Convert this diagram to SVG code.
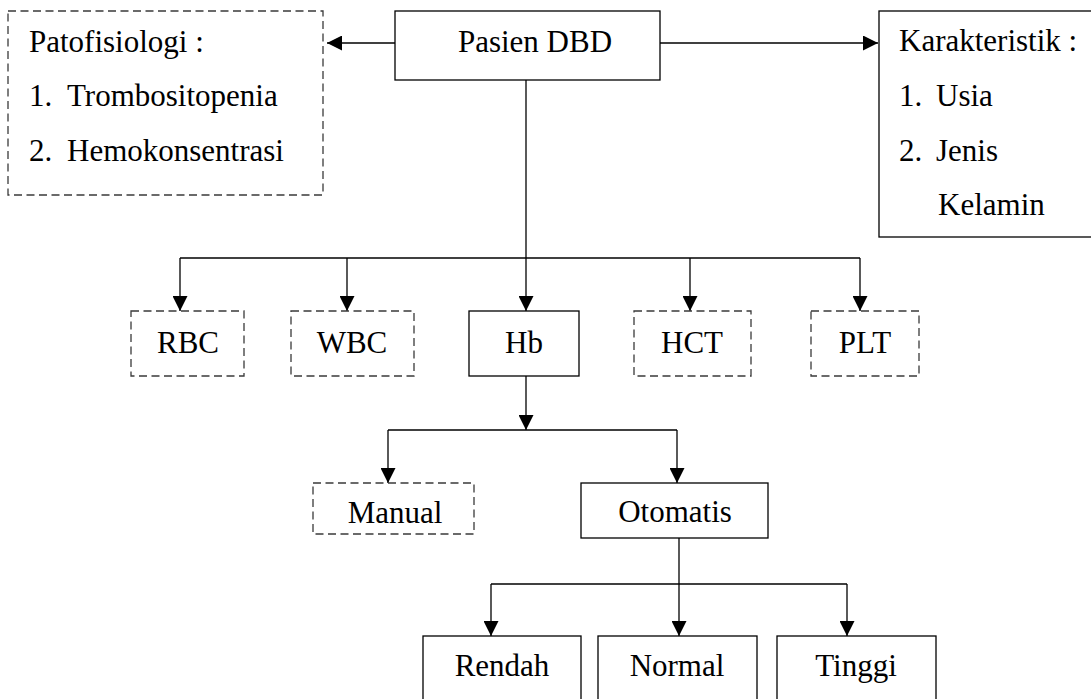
<svg xmlns="http://www.w3.org/2000/svg" width="1091" height="699" viewBox="0 0 1091 699">
<style>
.bg{fill:#fff}
.solid{fill:#fff;stroke:#000;stroke-width:1.3}
.dash{fill:#fff;stroke:#3a3a3a;stroke-width:1.3;stroke-dasharray:8 4.5}
text{font-family:'Liberation Serif','Tinos','DejaVu Serif',serif;font-size:31px;fill:#000}
.m{text-anchor:middle}
.c{fill:none;stroke:#000;stroke-width:1.3}
</style>
<defs>
<marker id="ah" markerUnits="userSpaceOnUse" markerWidth="16" markerHeight="15" refX="15" refY="7.5" orient="auto">
<path d="M0,0 L15,7.5 L0,15 z" fill="#000"/>
</marker>
</defs>
<rect class="bg" x="0" y="0" width="1091" height="699"/>
<g id="connectors">
<path class="c" d="M395,43 H327" marker-end="url(#ah)"/>
<path class="c" d="M660,43 H878" marker-end="url(#ah)"/>
<path class="c" d="M526,80 V311" marker-end="url(#ah)"/>
<path class="c" d="M180,258 H860"/>
<path class="c" d="M180,258 V311" marker-end="url(#ah)"/>
<path class="c" d="M347,258 V311" marker-end="url(#ah)"/>
<path class="c" d="M690,258 V311" marker-end="url(#ah)"/>
<path class="c" d="M860,258 V311" marker-end="url(#ah)"/>
<path class="c" d="M526,376 V430" marker-end="url(#ah)"/>
<path class="c" d="M388,430 H677"/>
<path class="c" d="M388,430 V483" marker-end="url(#ah)"/>
<path class="c" d="M677,430 V483" marker-end="url(#ah)"/>
<path class="c" d="M679,538 V636" marker-end="url(#ah)"/>
<path class="c" d="M491,584 H847"/>
<path class="c" d="M491,584 V636" marker-end="url(#ah)"/>
<path class="c" d="M847,584 V636" marker-end="url(#ah)"/>
</g>
<g id="patofisiologi">
<rect class="dash" x="8" y="11" width="315" height="184"/>
<text x="29" y="52">Patofisiologi :</text>
<text x="29" y="106">1.</text>
<text x="67" y="106">Trombositopenia</text>
<text x="29" y="161">2.</text>
<text x="67" y="161">Hemokonsentrasi</text>
</g>
<g id="pasien">
<rect class="solid" x="395" y="11" width="265" height="69"/>
<text class="m" x="535" y="52">Pasien DBD</text>
</g>
<g id="karakteristik">
<rect class="solid" x="879" y="11" width="230" height="226"/>
<text x="899" y="51">Karakteristik :</text>
<text x="899" y="106">1.</text>
<text x="936" y="106">Usia</text>
<text x="899" y="161">2.</text>
<text x="936" y="161">Jenis</text>
<text x="938" y="215">Kelamin</text>
</g>
<g id="rbc">
<rect class="dash" x="131" y="311" width="113" height="65"/>
<text class="m" x="188" y="353">RBC</text>
</g>
<g id="wbc">
<rect class="dash" x="291" y="311" width="123" height="65"/>
<text class="m" x="352" y="353">WBC</text>
</g>
<g id="hb">
<rect class="solid" x="469" y="311" width="110" height="65"/>
<text class="m" x="524" y="353">Hb</text>
</g>
<g id="hct">
<rect class="dash" x="634" y="311" width="117" height="65"/>
<text class="m" x="692" y="353">HCT</text>
</g>
<g id="plt">
<rect class="dash" x="811" y="311" width="108" height="65"/>
<text class="m" x="865" y="353">PLT</text>
</g>
<g id="manual">
<rect class="dash" x="313" y="483" width="161" height="51"/>
<text class="m" x="395" y="523">Manual</text>
</g>
<g id="otomatis">
<rect class="solid" x="581" y="483" width="187" height="55"/>
<text class="m" x="675" y="522">Otomatis</text>
</g>
<g id="rendah">
<rect class="solid" x="423" y="636" width="158" height="80"/>
<text class="m" x="502" y="676">Rendah</text>
</g>
<g id="normal">
<rect class="solid" x="598" y="636" width="159" height="80"/>
<text class="m" x="677" y="676">Normal</text>
</g>
<g id="tinggi">
<rect class="solid" x="777" y="636" width="159" height="80"/>
<text class="m" x="856" y="676">Tinggi</text>
</g>
</svg>
